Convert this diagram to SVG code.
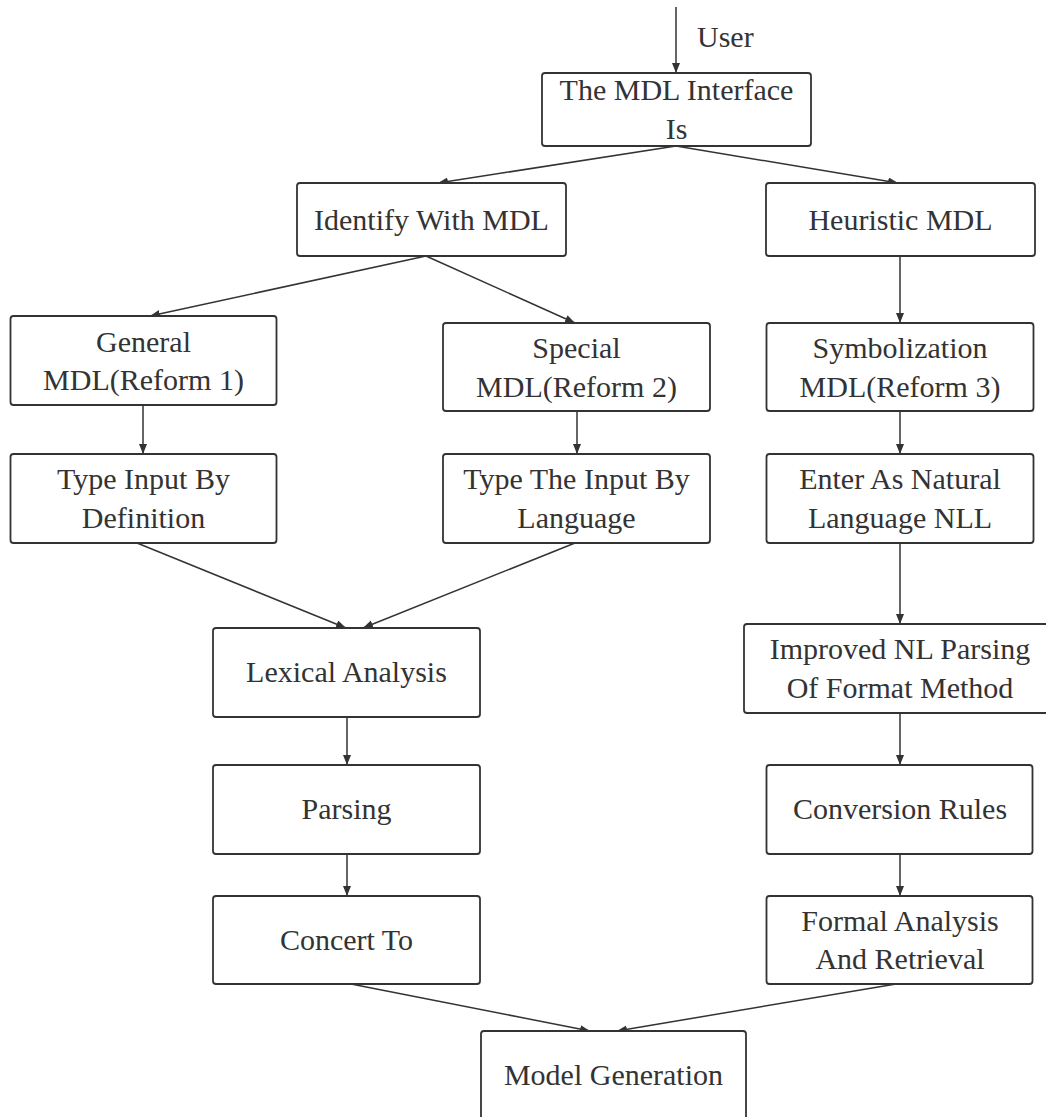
<svg xmlns="http://www.w3.org/2000/svg" width="1046" height="1117" viewBox="0 0 1046 1117">
<style>
.box{fill:#fff;stroke:#333;stroke-width:1.8}
.lbl{font-family:"Liberation Serif","Times New Roman",serif;font-size:30px;fill:#333;text-anchor:middle}
.edge{fill:none;stroke:#333;stroke-width:1.5;marker-end:url(#ah)}
</style>
<defs>
<marker id="ah" markerUnits="userSpaceOnUse" markerWidth="12" markerHeight="10" refX="10" refY="4" orient="auto">
<path d="M0,0 L10,4 L0,8 Z" fill="#333"/>
</marker>
</defs>
<rect width="1046" height="1117" fill="#fff"/>
<g id="connectors">
<line class="edge" x1="676" y1="7" x2="676" y2="73"/>
<line class="edge" x1="676" y1="146" x2="438" y2="183"/>
<line class="edge" x1="676" y1="146" x2="898" y2="183"/>
<line class="edge" x1="426" y1="256" x2="150" y2="316"/>
<line class="edge" x1="426" y1="256" x2="575" y2="323"/>
<line class="edge" x1="900" y1="256" x2="900" y2="323"/>
<line class="edge" x1="143" y1="405" x2="143" y2="454"/>
<line class="edge" x1="577" y1="411" x2="577" y2="454"/>
<line class="edge" x1="900" y1="411" x2="900" y2="454"/>
<line class="edge" x1="137" y1="543" x2="346" y2="628"/>
<line class="edge" x1="575" y1="543" x2="363" y2="628"/>
<line class="edge" x1="900" y1="543" x2="900" y2="624"/>
<line class="edge" x1="347" y1="717" x2="347" y2="765"/>
<line class="edge" x1="900" y1="713" x2="900" y2="765"/>
<line class="edge" x1="347" y1="854" x2="347" y2="896"/>
<line class="edge" x1="900" y1="854" x2="900" y2="896"/>
<line class="edge" x1="351" y1="984" x2="590" y2="1031"/>
<line class="edge" x1="896" y1="984" x2="617" y2="1031"/>
<text class="lbl" x="697" y="47" style="text-anchor:start">User</text>
</g>
<g id="n_interface"><rect class="box" x="542" y="73" width="269" height="73" rx="3"/><text class="lbl" x="676.5" y="100">The MDL Interface</text><text class="lbl" x="676.5" y="139">Is</text></g>
<g id="n_identify"><rect class="box" x="297" y="183" width="269" height="73" rx="3"/><text class="lbl" x="431.5" y="230">Identify With MDL</text></g>
<g id="n_heuristic"><rect class="box" x="766" y="183" width="269" height="73" rx="3"/><text class="lbl" x="900.5" y="230">Heuristic MDL</text></g>
<g id="n_general"><rect class="box" x="10.5" y="316" width="266" height="89" rx="3"/><text class="lbl" x="143.5" y="351.5">General</text><text class="lbl" x="143.5" y="390">MDL(Reform 1)</text></g>
<g id="n_special"><rect class="box" x="443" y="323" width="267" height="88" rx="3"/><text class="lbl" x="576.5" y="357.5">Special</text><text class="lbl" x="576.5" y="396.5">MDL(Reform 2)</text></g>
<g id="n_symbol"><rect class="box" x="766.5" y="323" width="267" height="88" rx="3"/><text class="lbl" x="900" y="357.5">Symbolization</text><text class="lbl" x="900" y="396.5">MDL(Reform 3)</text></g>
<g id="n_typedef"><rect class="box" x="10.5" y="454" width="266" height="89" rx="3"/><text class="lbl" x="143.5" y="489">Type Input By</text><text class="lbl" x="143.5" y="527.5">Definition</text></g>
<g id="n_typelang"><rect class="box" x="443" y="454" width="267" height="89" rx="3"/><text class="lbl" x="576.5" y="489">Type The Input By</text><text class="lbl" x="576.5" y="527.5">Language</text></g>
<g id="n_enter"><rect class="box" x="766.5" y="454" width="267" height="89" rx="3"/><text class="lbl" x="900" y="489">Enter As Natural</text><text class="lbl" x="900" y="527.5">Language NLL</text></g>
<g id="n_lexical"><rect class="box" x="213" y="628" width="267" height="89" rx="3"/><text class="lbl" x="346.5" y="682">Lexical Analysis</text></g>
<g id="n_improved"><rect class="box" x="744" y="624" width="310" height="89" rx="3"/><text class="lbl" x="900" y="659">Improved NL Parsing</text><text class="lbl" x="900" y="697.5">Of Format Method</text></g>
<g id="n_parsing"><rect class="box" x="213" y="765" width="267" height="89" rx="3"/><text class="lbl" x="346.5" y="819">Parsing</text></g>
<g id="n_conversion"><rect class="box" x="766.5" y="765" width="266" height="89" rx="3"/><text class="lbl" x="900" y="819">Conversion Rules</text></g>
<g id="n_concert"><rect class="box" x="213" y="896" width="267" height="88" rx="3"/><text class="lbl" x="346.5" y="950">Concert To</text></g>
<g id="n_formal"><rect class="box" x="766.5" y="896" width="266" height="88" rx="3"/><text class="lbl" x="900" y="930.5">Formal Analysis</text><text class="lbl" x="900" y="969">And Retrieval</text></g>
<g id="n_model"><rect class="box" x="481" y="1031" width="265" height="90" rx="3"/><text class="lbl" x="613.5" y="1085">Model Generation</text></g>
</svg>
